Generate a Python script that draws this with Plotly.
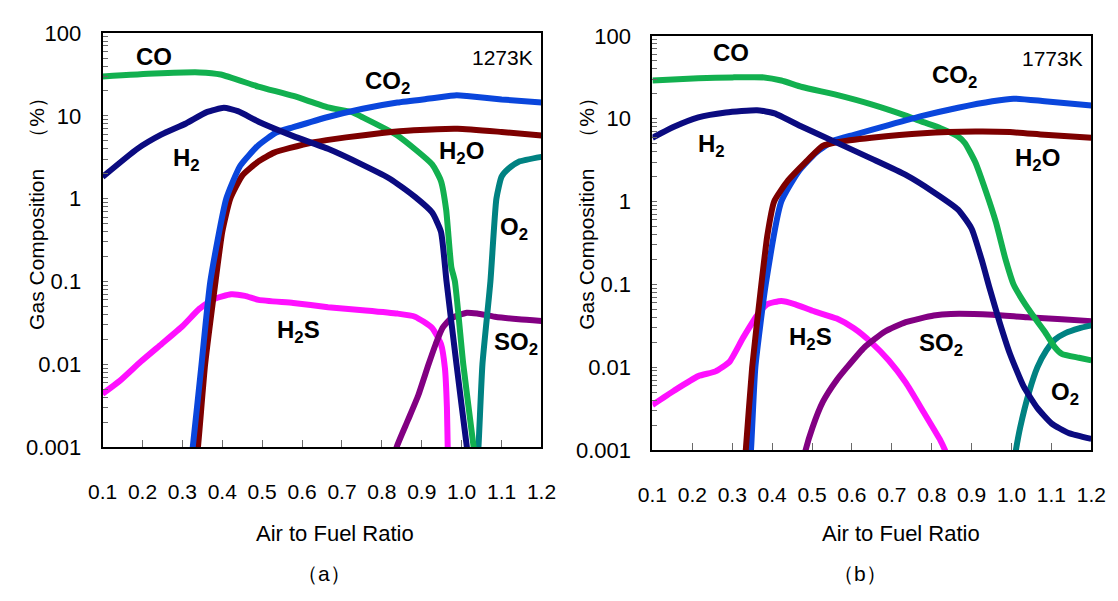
import math
import plotly.graph_objects as go

W, H = 1118, 601

# ---------------- (a) 1273 K ----------------
x_co_a = [0.1, 0.23, 0.343, 0.396, 0.49, 0.578, 0.665, 0.727, 0.752, 0.839, 0.926, 0.948, 0.961, 0.974, 0.983, 1.004, 1.03, 1.036]
y_co_a = [30, 32.5, 33.5, 31.6, 22.6, 17.4, 12.7, 11.0, 9.6, 5.8, 2.6, 1.64, 0.74, 0.15, 0.1, 0.01, 0.001, 0.0006]

x_h2_a = [0.1, 0.187, 0.248, 0.309, 0.361, 0.404, 0.439, 0.491, 0.578, 0.665, 0.752, 0.822, 0.883, 0.926, 0.948, 0.962, 0.987, 1.013, 1.02]
y_h2_a = [1.83, 4.0, 5.97, 8.1, 11.1, 12.5, 11.4, 8.5, 5.7, 4.0, 2.56, 1.72, 1.05, 0.68, 0.4, 0.1, 0.01, 0.001, 0.0006]

x_co2_a = [0.32, 0.326, 0.348, 0.37, 0.41, 0.445, 0.49, 0.535, 0.578, 0.665, 0.752, 0.839, 0.926, 0.987, 1.013, 1.1, 1.2]
y_co2_a = [0.0006, 0.001, 0.01, 0.1, 1.0, 2.5, 4.4, 6.3, 7.3, 9.7, 12.2, 14.5, 16.3, 17.7, 17.4, 15.8, 14.5]

x_h2o_a = [0.333, 0.339, 0.357, 0.383, 0.4, 0.42, 0.45, 0.49, 0.53, 0.57, 0.63, 0.71, 0.8, 0.88, 0.99, 1.1, 1.2]
y_h2o_a = [0.0006, 0.001, 0.01, 0.1, 0.4, 1.0, 1.9, 2.8, 3.6, 4.1, 4.8, 5.5, 6.2, 6.7, 7.0, 6.4, 5.8]

x_o2_a = [1.038, 1.042, 1.052, 1.072, 1.087, 1.1, 1.117, 1.143, 1.2]
y_o2_a = [0.0006, 0.001, 0.01, 0.1, 1.0, 1.85, 2.3, 2.8, 3.2]

x_h2s_a = [0.1, 0.143, 0.196, 0.248, 0.3, 0.343, 0.378, 0.422, 0.457, 0.491, 0.578, 0.665, 0.752, 0.839, 0.883, 0.926, 0.948, 0.958, 0.963, 0.965, 0.967]
y_h2s_a = [0.0044, 0.0063, 0.0108, 0.0176, 0.0288, 0.047, 0.061, 0.07, 0.067, 0.060, 0.055, 0.049, 0.045, 0.041, 0.0376, 0.0275, 0.0176, 0.009, 0.003, 0.001, 0.0006]

x_so2_a = [0.83, 0.837, 0.865, 0.891, 0.917, 0.935, 0.952, 0.974, 1.013, 1.039, 1.083, 1.143, 1.2]
y_so2_a = [0.0007, 0.001, 0.0021, 0.0042, 0.01, 0.0176, 0.0275, 0.036, 0.042, 0.041, 0.0376, 0.035, 0.0334]

# ---------------- (b) 1773 K ----------------
x_co_b = [0.1, 0.215, 0.301, 0.38, 0.423, 0.475, 0.562, 0.649, 0.735, 0.779, 0.822, 0.866, 0.883, 0.909, 0.935, 0.961, 0.985, 1.005, 1.03, 1.057, 1.083, 1.109, 1.126, 1.169, 1.2]
y_co_b = [29, 30.8, 31.6, 31.6, 29, 24.2, 19.4, 14.9, 10.9, 9.1, 7.7, 6.1, 5.1, 3.0, 1.36, 0.56, 0.2, 0.1, 0.062, 0.04, 0.027, 0.0173, 0.0145, 0.013, 0.0121]

x_h2_b = [0.1, 0.154, 0.215, 0.284, 0.362, 0.406, 0.475, 0.562, 0.649, 0.735, 0.805, 0.866, 0.9, 0.925, 0.945, 0.97, 0.996, 1.03, 1.065, 1.1, 1.143, 1.2]
y_h2_b = [5.9, 8.0, 10.4, 11.9, 12.7, 11.6, 8.0, 5.15, 3.3, 2.1, 1.3, 0.8, 0.47, 0.2, 0.09, 0.035, 0.0145, 0.0059, 0.0032, 0.0021, 0.0016, 0.00136]

x_co2_b = [0.342, 0.347, 0.358, 0.384, 0.423, 0.466, 0.51, 0.553, 0.605, 0.692, 0.779, 0.866, 0.952, 1.005, 1.083, 1.2]
y_co2_b = [0.0006, 0.001, 0.01, 0.1, 1.0, 2.3, 3.9, 5.4, 6.4, 8.4, 10.9, 13.6, 16.3, 17.5, 16.3, 14.5]

x_h2o_b = [0.33, 0.334, 0.35, 0.373, 0.388, 0.405, 0.44, 0.484, 0.527, 0.562, 0.649, 0.779, 0.909, 0.996, 1.083, 1.2]
y_h2o_b = [0.0006, 0.001, 0.01, 0.1, 0.39, 1.0, 1.8, 3.0, 4.7, 5.2, 5.9, 6.7, 7.0, 6.9, 6.4, 5.9]

x_o2_b = [1.008, 1.011, 1.022, 1.044, 1.065, 1.087, 1.109, 1.135, 1.169, 1.2]
y_o2_b = [0.0008, 0.001, 0.0019, 0.005, 0.01, 0.0158, 0.0216, 0.0258, 0.0295, 0.032]

x_h2s_b = [0.1, 0.154, 0.215, 0.258, 0.293, 0.327, 0.362, 0.388, 0.423, 0.458, 0.501, 0.562, 0.605, 0.649, 0.692, 0.735, 0.779, 0.822, 0.833, 0.84]
y_h2s_b = [0.0035, 0.0052, 0.0078, 0.0089, 0.0116, 0.0226, 0.042, 0.0575, 0.063, 0.0575, 0.048, 0.0386, 0.0295, 0.0198, 0.0121, 0.0065, 0.0029, 0.0013, 0.001, 0.0008]

x_so2_b = [0.48, 0.484, 0.501, 0.527, 0.562, 0.588, 0.631, 0.683, 0.735, 0.805, 0.848, 0.952, 1.039, 1.126, 1.2]
y_so2_b = [0.0008, 0.001, 0.00186, 0.0038, 0.007, 0.01, 0.0173, 0.027, 0.035, 0.042, 0.044, 0.043, 0.040, 0.038, 0.036]

# axis ticks
x_ticks = [0.1, 0.2, 0.3, 0.4, 0.5, 0.6, 0.7, 0.8, 0.9, 1.0, 1.1, 1.2]
x_tick_text = ["0.1", "0.2", "0.3", "0.4", "0.5", "0.6", "0.7", "0.8", "0.9", "1.0", "1.1", "1.2"]
y_ticks = [0.001, 0.01, 0.1, 1, 10, 100]
y_tick_text = ["0.001", "0.01", "0.1", "1", "10", "100"]

# every 1..9 step inside each decade carries a tick; only decades are labelled
y_all_ticks = []
y_all_text = []
for e in range(-3, 2):
    for k in range(1, 10):
        y_all_ticks.append(k * 10.0 ** e)
        y_all_text.append(y_tick_text[e + 3] if k == 1 else "")
y_all_ticks.append(y_ticks[-1])
y_all_text.append(y_tick_text[-1])

COLORS = {
    "CO": "#12b04f",
    "H2": "#0b0b80",
    "CO2": "#0a46dc",
    "H2O": "#7d0000",
    "O2": "#008282",
    "H2S": "#ff10ff",
    "SO2": "#820082",
}

SANS = "Liberation Sans, Arial, sans-serif"
LABEL_FONT = dict(family=SANS, size=24, color="black", weight="bold")

fig = go.Figure()


def curve(x, y, species, xa, ya):
    fig.add_trace(go.Scatter(
        x=x, y=y, mode="lines", xaxis=xa, yaxis=ya,
        line=dict(color=COLORS[species], width=6, shape="spline", smoothing=0.5),
        showlegend=False, hoverinfo="skip",
    ))


# draw order: later series on top
panel_a = [("H2S", x_h2s_a, y_h2s_a), ("SO2", x_so2_a, y_so2_a), ("O2", x_o2_a, y_o2_a),
           ("CO", x_co_a, y_co_a), ("H2O", x_h2o_a, y_h2o_a), ("CO2", x_co2_a, y_co2_a),
           ("H2", x_h2_a, y_h2_a)]
panel_b = [("H2S", x_h2s_b, y_h2s_b), ("SO2", x_so2_b, y_so2_b), ("O2", x_o2_b, y_o2_b),
           ("CO", x_co_b, y_co_b), ("CO2", x_co2_b, y_co2_b), ("H2O", x_h2o_b, y_h2o_b),
           ("H2", x_h2_b, y_h2_b)]
for sp, xs, ys in panel_a:
    curve(xs, ys, sp, "x", "y")
for sp, xs, ys in panel_b:
    curve(xs, ys, sp, "x2", "y2")


def px(xp):
    return xp / W


def py(yp):
    return 1 - yp / H


xaxis_style = dict(
    range=[0.1, 1.2], tickmode="array", tickvals=x_ticks, ticktext=x_tick_text,
    ticks="inside", ticklen=7, tickwidth=1, tickcolor="#6a6a6a",
    showgrid=False, zeroline=False, showline=True, mirror=True,
    linecolor="black", linewidth=2, ticklabelstandoff=25,
    tickfont=dict(family=SANS, size=21, color="black"),
)
yaxis_style = dict(
    type="log", range=[-3, 2], tickmode="array", tickvals=y_all_ticks, ticktext=y_all_text,
    ticks="inside", ticklen=5, tickwidth=1, tickcolor="#6a6a6a",
    showgrid=False, zeroline=False,
    showline=True, mirror=True, linecolor="black", linewidth=2, ticklabelstandoff=15,
    tickfont=dict(family=SANS, size=22, color="black"),
)
# decade grid lines come from an overlaid log axis
grid_style = dict(
    type="log", range=[-3, 2], tickmode="array", tickvals=y_ticks,
    showticklabels=False, ticks="", showgrid=True, gridcolor="#5a5a5a", gridwidth=1,
    zeroline=False, showline=False,
)

fig.update_layout(
    width=W, height=H, margin=dict(l=0, r=0, t=0, b=0),
    paper_bgcolor="white", plot_bgcolor="white",
    xaxis=dict(domain=[px(90), px(541)], anchor="y", **xaxis_style),
    yaxis=dict(domain=[py(454), py(22)], anchor="x", **yaxis_style),
    xaxis2=dict(domain=[px(655), px(1106)], anchor="y2", **xaxis_style),
    yaxis2=dict(domain=[py(457), py(25)], anchor="x2", **yaxis_style),
    yaxis3=dict(overlaying="y", anchor="x", layer="below traces", **grid_style),
    yaxis4=dict(overlaying="y2", anchor="x2", layer="below traces", **grid_style),
)

ann = []


def label(text, x, y, xr, yr, xanchor="center"):
    ann.append(dict(text=text, x=x, y=math.log10(y), xref=xr, yref=yr, showarrow=False,
                    xanchor=xanchor, yanchor="middle", font=LABEL_FONT))


# panel (a) labels
label("CO", 0.228, 52.7, "x", "y")
label("H<sub>2</sub>", 0.31, 3.0, "x", "y")
label("CO<sub>2</sub>", 0.815, 25.0, "x", "y")
label("H<sub>2</sub>O", 1.0, 3.6, "x", "y")
label("O<sub>2</sub>", 1.13, 0.44, "x", "y")
label("H<sub>2</sub>S", 0.59, 0.025, "x", "y")
label("SO<sub>2</sub>", 1.135, 0.0178, "x", "y")
# panel (b) labels
label("CO", 0.298, 63.6, "x2", "y2")
label("H<sub>2</sub>", 0.249, 4.7, "x2", "y2")
label("CO<sub>2</sub>", 0.858, 32.0, "x2", "y2")
label("H<sub>2</sub>O", 1.066, 3.2, "x2", "y2")
label("O<sub>2</sub>", 1.135, 0.0048, "x2", "y2")
label("H<sub>2</sub>S", 0.495, 0.022, "x2", "y2")
label("SO<sub>2</sub>", 0.824, 0.019, "x2", "y2")

# temperature tags
TAG_FONT = dict(family=SANS, size=21, color="black")
ann.append(dict(text="1273K", x=1.185, y=math.log10(51), xref="x", yref="y", showarrow=False,
                xanchor="right", yanchor="middle", font=TAG_FONT))
ann.append(dict(text="1773K", x=1.185, y=math.log10(54), xref="x2", yref="y2", showarrow=False,
                xanchor="right", yanchor="middle", font=TAG_FONT))

TITLE_FONT = dict(family=SANS, size=21, color="black")
XTITLE_FONT = dict(family=SANS, size=22, color="black")
# axis titles
for xp_, yp_ in [(22, 205), (587, 205)]:
    ann.append(dict(text="Gas Composition\u3000\uff08%\uff09", x=px(xp_), y=py(yp_), xref="paper", yref="paper",
                    showarrow=False, textangle=-90, xanchor="center", yanchor="middle", font=TITLE_FONT))
for xp_ in [329, 910]:
    ann.append(dict(text="Air to Fuel Ratio", x=px(xp_), y=py(544), xref="paper", yref="paper",
                    showarrow=False, xanchor="center", yanchor="middle", font=XTITLE_FONT))
# panel captions
for txt, xp_ in [("\uff08a\uff09", 318), ("\uff08b\uff09", 868)]:
    ann.append(dict(text=txt, x=px(xp_), y=py(586), xref="paper", yref="paper",
                    showarrow=False, xanchor="center", yanchor="middle", font=TITLE_FONT))

fig.update_layout(annotations=ann)

fig.write_html("out.html")
